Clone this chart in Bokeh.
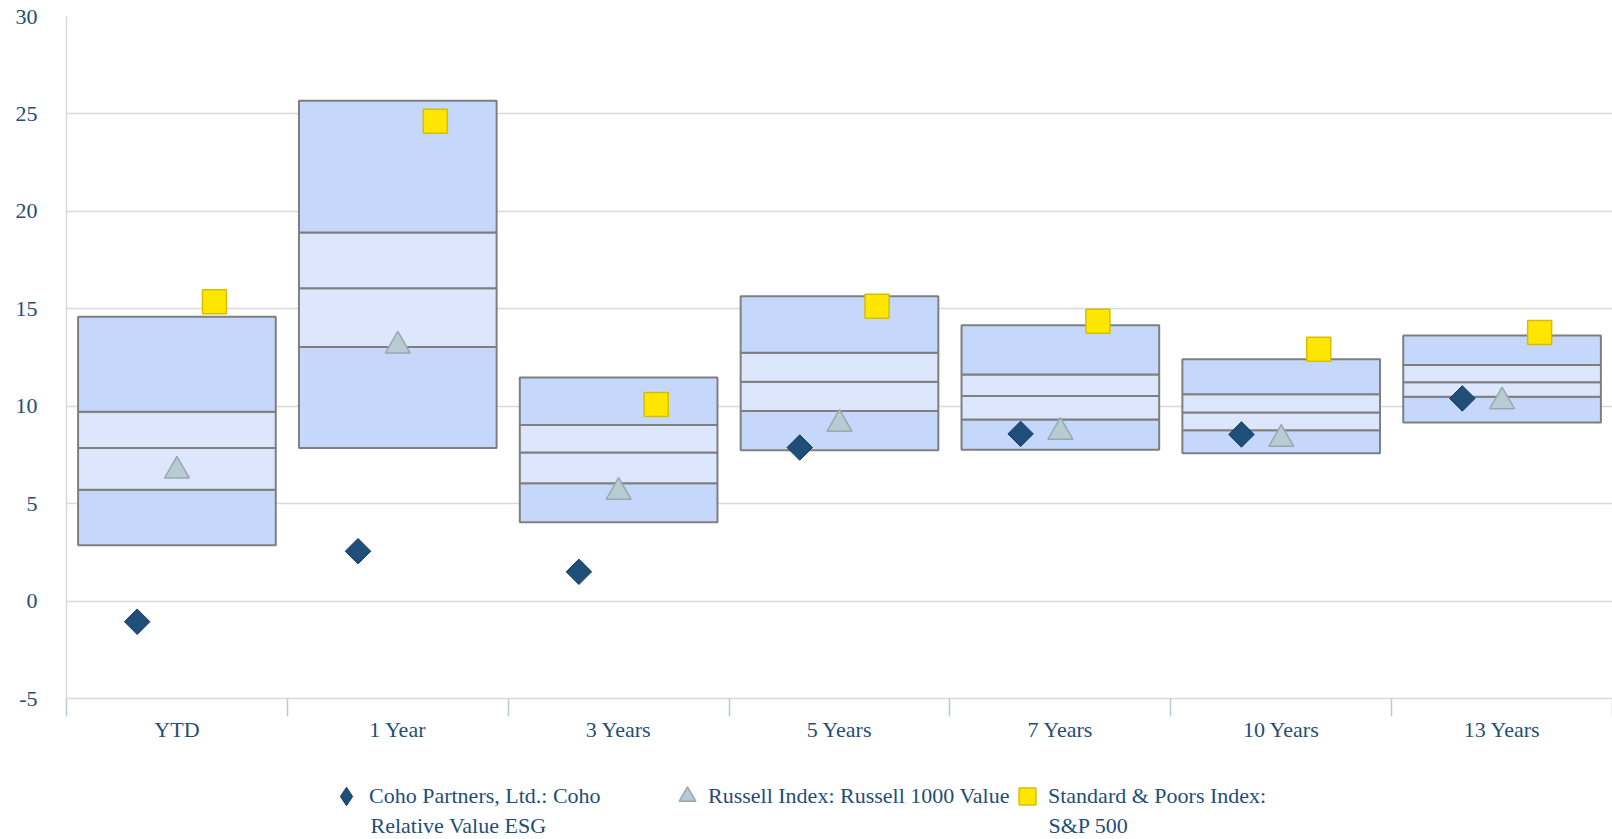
import numpy as np
from bokeh.plotting import figure
from bokeh.layouts import column
from bokeh.models import Range1d, FixedTicker, Legend, LegendItem, Label
from bokeh.embed import file_html
from bokeh.resources import INLINE

categories = ["YTD", "1 Year", "3 Years", "5 Years", "7 Years", "10 Years", "13 Years"]
box_top = [14.59, 25.68, 11.47, 15.64, 14.15, 12.41, 13.63]
box_q3 = [9.71, 18.92, 9.03, 12.75, 11.63, 10.62, 12.12]
box_median = [7.86, 16.05, 7.62, 11.25, 10.53, 9.68, 11.23]
box_q1 = [5.71, 13.04, 6.05, 9.76, 9.32, 8.77, 10.48]
box_bottom = [2.86, 7.86, 4.04, 7.74, 7.76, 7.59, 9.16]
coho = [-1.06, 2.56, 1.50, 7.88, 8.58, 8.55, 10.40]
russell = [6.68, 13.10, 5.59, 9.08, 8.67, 8.31, 10.24]
sp500 = [15.36, 24.63, 10.09, 15.13, 14.36, 12.92, 13.78]
y_ticks = [-5, 0, 5, 10, 15, 20, 25, 30]

series_line1 = ["Coho Partners, Ltd.: Coho", "Russell Index: Russell 1000 Value",
                "Standard & Poors Index:"]
series_line2 = ["Relative Value ESG", "", "S&P 500"]

FONT = "Liberation Serif"
TXT = "#1f4e79"
OUTER = "#c5d8fc"
INNER = "#dce7fd"
EDGE = "#7f7f7f"
C_COHO, L_COHO = "#1f4e79", "#173b5e"
C_RUS, L_RUS = "#b8cbd2", "#98a9ae"
C_SP, L_SP = "#ffe600", "#d4c000"

xc = np.arange(len(categories)) + 0.5

p = figure(frame_width=1546, frame_height=682, min_border_left=66, min_border_top=16,
           min_border_right=0, min_border_bottom=60,
           x_range=Range1d(0, len(categories)), y_range=Range1d(-5, 30),
           output_backend="svg", toolbar_location=None)
p.outline_line_color = None
p.xgrid.grid_line_color = None
p.ygrid.grid_line_color = "#d9d9d9"
p.ygrid.grid_line_width = 1.5

# boxes
bands = [(box_bottom, box_q1, OUTER), (box_q1, box_median, INNER),
         (box_median, box_q3, INNER), (box_q3, box_top, OUTER)]
for lo, hi, col in bands:
    p.vbar(x=xc, bottom=lo, top=hi, width=0.895, fill_color=col,
           line_color=EDGE, line_width=2)

# markers
p.scatter(x=xc - 0.18, y=coho, marker="square", size=18, angle=np.pi / 4,
          fill_color=C_COHO, line_color=L_COHO, line_width=1)
p.scatter(x=xc, y=russell, marker="triangle", size=25,
          fill_color=C_RUS, line_color=L_RUS, line_width=1.5)
p.scatter(x=xc + 0.17, y=sp500, marker="square", size=24,
          fill_color=C_SP, line_color=L_SP, line_width=1.5)

# axes
p.yaxis.ticker = FixedTicker(ticks=y_ticks)
p.yaxis.major_label_overrides = {t: str(t) for t in y_ticks}
p.yaxis.axis_line_color = "#d9d9d9"
p.yaxis.axis_line_width = 1.5
p.yaxis.major_tick_line_color = None
p.yaxis.major_tick_out = 0
p.yaxis.major_tick_in = 0
p.yaxis.minor_tick_line_color = None
p.yaxis.major_label_standoff = 29
p.yaxis.major_label_text_font = FONT
p.yaxis.major_label_text_font_size = "22px"
p.yaxis.major_label_text_color = TXT

p.xaxis.ticker = FixedTicker(ticks=list(xc), minor_ticks=list(range(len(categories) + 1)))
p.xaxis.major_label_overrides = {float(x): c for x, c in zip(xc, categories)}
p.xaxis.axis_line_color = "#d9d9d9"
p.xaxis.axis_line_width = 1.5
p.xaxis.major_tick_line_color = None
p.xaxis.major_tick_out = 0
p.xaxis.major_tick_in = 0
p.xaxis.minor_tick_line_color = "#b9c9da"
p.xaxis.minor_tick_line_width = 1.5
p.xaxis.minor_tick_out = 18
p.xaxis.minor_tick_in = 0
p.xaxis.major_label_standoff = 0
p.xaxis.major_label_text_font = FONT
p.xaxis.major_label_text_font_size = "22px"
p.xaxis.major_label_text_color = TXT

# legend strip (separate figure below the chart; its frame aligns with the chart frame)
lf = figure(width=1612, height=81, min_border=0, x_axis_type=None, y_axis_type=None,
            x_range=Range1d(0, len(categories)), y_range=Range1d(40, 50),
            output_backend="svg", toolbar_location=None)
lf.outline_line_color = None
lf.grid.grid_line_color = None
g1 = lf.scatter(x=xc, y=coho, marker="diamond", size=0,
                fill_color=C_COHO, line_color=L_COHO, line_width=1)
g2 = lf.scatter(x=xc, y=russell, marker="triangle", size=0,
                fill_color=C_RUS, line_color=L_RUS, line_width=1.5)
g3 = lf.scatter(x=xc, y=sp500, marker="square", size=0,
                fill_color=C_SP, line_color=L_SP, line_width=1.5)

# (renderer, series index, left x, glyph box, 2nd-line x)
legend_specs = [(g1, 0, 257, 46, 304), (g2, 1, 600, 42, None),
                (g3, 2, 940, 42, 982)]
for r, i, vx, gsz, x2 in legend_specs:
    vy = 43 - gsz / 2
    lg = Legend(items=[LegendItem(label=series_line1[i], renderers=[r])],
                location=(vx, vy), orientation="horizontal",
                glyph_width=gsz, glyph_height=gsz, label_standoff=0,
                padding=0, margin=0, spacing=0, border_line_color=None,
                background_fill_alpha=0, label_height=10,
                label_text_font=FONT, label_text_font_size="22px",
                label_text_color=TXT)
    lf.add_layout(lg, "center")
    if series_line2[i]:
        lf.add_layout(Label(x=x2, y=14, x_units="screen", y_units="screen",
                            text=series_line2[i], text_font=FONT,
                            text_font_size="22px", text_color=TXT,
                            text_baseline="middle", text_align="left"))

layout = column(p, lf, spacing=0)
open("out.html", "w").write(file_html(layout, INLINE))
